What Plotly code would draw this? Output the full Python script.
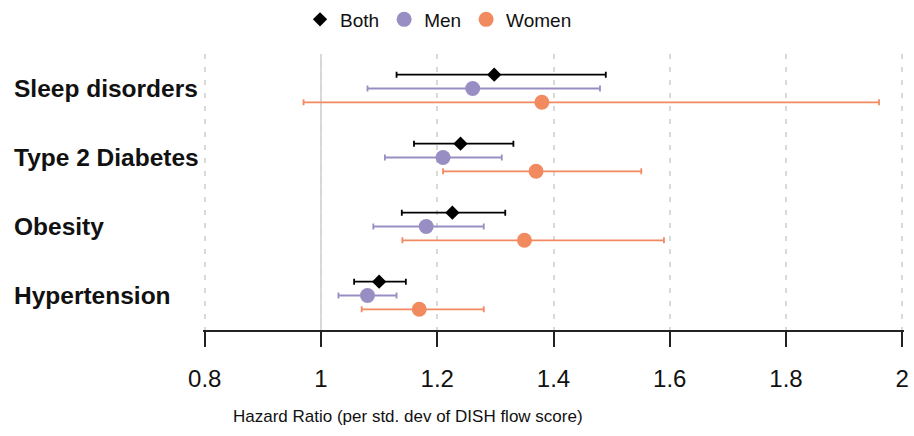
import plotly.graph_objects as go

categories = ["Hypertension", "Obesity", "Type 2 Diabetes", "Sleep disorders"]

both_hr = [1.100, 1.226, 1.240, 1.298]
both_lo = [1.057, 1.139, 1.160, 1.130]
both_hi = [1.146, 1.317, 1.331, 1.490]

men_hr = [1.080, 1.181, 1.210, 1.261]
men_lo = [1.030, 1.090, 1.110, 1.080]
men_hi = [1.130, 1.280, 1.311, 1.480]

women_hr = [1.169, 1.350, 1.370, 1.380]
women_lo = [1.070, 1.140, 1.210, 0.970]
women_hi = [1.280, 1.590, 1.551, 1.960]

x_ticks = [0.8, 1.0, 1.2, 1.4, 1.6, 1.8, 2.0]
x_ticktext = ["0.8", "1", "1.2", "1.4", "1.6", "1.8", "2"]
x_title = "Hazard Ratio (per std. dev of DISH flow score)"

BLACK = "#000000"
PURPLE = "#998ec3"
ORANGE = "#f28a60"
FONT = "Liberation Sans, Arial, sans-serif"

series = [
    ("Both", both_hr, both_lo, both_hi, BLACK, "diamond", 11, 0.2),
    ("Men", men_hr, men_lo, men_hi, PURPLE, "circle", 15, 0.0),
    ("Women", women_hr, women_lo, women_hi, ORANGE, "circle", 15, -0.2),
]

fig = go.Figure()
for name, hr, lo, hi, color, sym, size, off in series:
    ys = [i + off for i in range(len(categories))]
    fig.add_trace(go.Scatter(
        x=hr, y=ys, mode="markers", name=name,
        marker=dict(color=color, symbol=sym, size=size, line=dict(width=0)),
        error_x=dict(type="data", symmetric=False,
                     array=[h - v for h, v in zip(hi, hr)],
                     arrayminus=[v - l for v, l in zip(hr, lo)],
                     color=color, thickness=1.8, width=3),
        hoverinfo="skip",
    ))

# reference line at HR = 1
fig.add_shape(type="line", xref="x", yref="paper", x0=1, x1=1, y0=0, y1=1,
              line=dict(color="#c8c8c8", width=1.5), layer="below")

for i, cat in enumerate(categories):
    fig.add_annotation(text="<b>" + cat + "</b>", x=-0.272, xref="paper",
                       y=i, yref="y", xanchor="left", yanchor="middle",
                       showarrow=False,
                       font=dict(family=FONT, size=24.5, color="#111111"))

fig.add_annotation(text=x_title, x=0.292, xref="paper", y=-0.312, yref="paper",
                   xanchor="center", yanchor="middle", showarrow=False,
                   font=dict(family=FONT, size=17, color="#111111"))

fig.update_layout(
    width=914, height=436,
    margin=dict(l=203, r=10, t=54, b=106, autoexpand=False),
    plot_bgcolor="white", paper_bgcolor="white",
    showlegend=True,
    legend=dict(orientation="h", x=0.336, xanchor="center", y=1.125,
                yanchor="middle", font=dict(family=FONT, size=19, color="#111111"),
                itemwidth=30, tracegroupgap=0),
    xaxis=dict(range=[0.797, 2.003], tickvals=x_ticks, ticktext=x_ticktext,
               showgrid=True, gridcolor="#d9d9d9", griddash="5px,8px", gridwidth=1.5,
               zeroline=False, showline=True, linecolor="#222222", linewidth=1.5,
               ticks="outside", ticklen=15, tickwidth=1.5, tickcolor="#222222",
               ticklabelstandoff=11, automargin=False,
               tickfont=dict(family=FONT, size=24, color="#111111")),
    yaxis=dict(range=[-0.5, 3.5], showgrid=False, zeroline=False,
               showticklabels=False, showline=False, ticks="", automargin=False),
)

fig.write_html("out.html")
